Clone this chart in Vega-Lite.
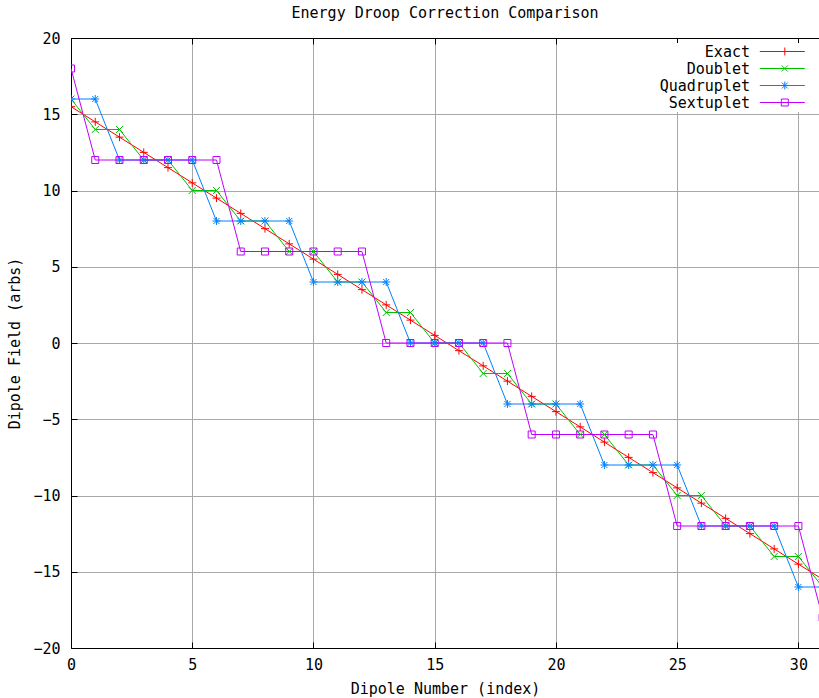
{
  "$schema": "https://vega.github.io/schema/vega-lite/v6.json",
  "width": 748,
  "height": 610,
  "autosize": {"type": "none"},
  "padding": {"left": 71, "top": 38, "right": 0, "bottom": 50},
  "background": "white",
  "title": {
    "text": "Energy Droop Correction Comparison",
    "anchor": "middle",
    "frame": "group",
    "offset": 10,
    "font": "DejaVu Sans Mono",
    "fontSize": 15,
    "fontWeight": "normal",
    "color": "black"
  },
  "config": {
    "view": {"stroke": null},
    "axis": {
      "domainColor": "black",
      "domainWidth": 1,
      "tickColor": "black",
      "tickWidth": 1,
      "gridColor": "#a8a8a8",
      "gridWidth": 1,
      "gridOpacity": 1,
      "labelFont": "DejaVu Sans Mono",
      "labelFontSize": 15,
      "labelColor": "black",
      "labelFlush": false,
      "labelOverlap": false,
      "titleFont": "DejaVu Sans Mono",
      "titleFontSize": 15,
      "titleFontWeight": "normal",
      "titleColor": "black"
    }
  },
  "data": {
    "values": [
      {"series": "Exact", "x": 0, "y": 15.5}, {"series": "Exact", "x": 1, "y": 14.5},
      {"series": "Exact", "x": 2, "y": 13.5}, {"series": "Exact", "x": 3, "y": 12.5},
      {"series": "Exact", "x": 4, "y": 11.5}, {"series": "Exact", "x": 5, "y": 10.5},
      {"series": "Exact", "x": 6, "y": 9.5}, {"series": "Exact", "x": 7, "y": 8.5},
      {"series": "Exact", "x": 8, "y": 7.5}, {"series": "Exact", "x": 9, "y": 6.5},
      {"series": "Exact", "x": 10, "y": 5.5}, {"series": "Exact", "x": 11, "y": 4.5},
      {"series": "Exact", "x": 12, "y": 3.5}, {"series": "Exact", "x": 13, "y": 2.5},
      {"series": "Exact", "x": 14, "y": 1.5}, {"series": "Exact", "x": 15, "y": 0.5},
      {"series": "Exact", "x": 16, "y": -0.5}, {"series": "Exact", "x": 17, "y": -1.5},
      {"series": "Exact", "x": 18, "y": -2.5}, {"series": "Exact", "x": 19, "y": -3.5},
      {"series": "Exact", "x": 20, "y": -4.5}, {"series": "Exact", "x": 21, "y": -5.5},
      {"series": "Exact", "x": 22, "y": -6.5}, {"series": "Exact", "x": 23, "y": -7.5},
      {"series": "Exact", "x": 24, "y": -8.5}, {"series": "Exact", "x": 25, "y": -9.5},
      {"series": "Exact", "x": 26, "y": -10.5}, {"series": "Exact", "x": 27, "y": -11.5},
      {"series": "Exact", "x": 28, "y": -12.5}, {"series": "Exact", "x": 29, "y": -13.5},
      {"series": "Exact", "x": 30, "y": -14.5}, {"series": "Exact", "x": 31, "y": -15.5},

      {"series": "Doublet", "x": 0, "y": 16}, {"series": "Doublet", "x": 1, "y": 14},
      {"series": "Doublet", "x": 2, "y": 14}, {"series": "Doublet", "x": 3, "y": 12},
      {"series": "Doublet", "x": 4, "y": 12}, {"series": "Doublet", "x": 5, "y": 10},
      {"series": "Doublet", "x": 6, "y": 10}, {"series": "Doublet", "x": 7, "y": 8},
      {"series": "Doublet", "x": 8, "y": 8}, {"series": "Doublet", "x": 9, "y": 6},
      {"series": "Doublet", "x": 10, "y": 6}, {"series": "Doublet", "x": 11, "y": 4},
      {"series": "Doublet", "x": 12, "y": 4}, {"series": "Doublet", "x": 13, "y": 2},
      {"series": "Doublet", "x": 14, "y": 2}, {"series": "Doublet", "x": 15, "y": 0},
      {"series": "Doublet", "x": 16, "y": 0}, {"series": "Doublet", "x": 17, "y": -2},
      {"series": "Doublet", "x": 18, "y": -2}, {"series": "Doublet", "x": 19, "y": -4},
      {"series": "Doublet", "x": 20, "y": -4}, {"series": "Doublet", "x": 21, "y": -6},
      {"series": "Doublet", "x": 22, "y": -6}, {"series": "Doublet", "x": 23, "y": -8},
      {"series": "Doublet", "x": 24, "y": -8}, {"series": "Doublet", "x": 25, "y": -10},
      {"series": "Doublet", "x": 26, "y": -10}, {"series": "Doublet", "x": 27, "y": -12},
      {"series": "Doublet", "x": 28, "y": -12}, {"series": "Doublet", "x": 29, "y": -14},
      {"series": "Doublet", "x": 30, "y": -14}, {"series": "Doublet", "x": 31, "y": -16},

      {"series": "Quadruplet", "x": 0, "y": 16}, {"series": "Quadruplet", "x": 1, "y": 16},
      {"series": "Quadruplet", "x": 2, "y": 12}, {"series": "Quadruplet", "x": 3, "y": 12},
      {"series": "Quadruplet", "x": 4, "y": 12}, {"series": "Quadruplet", "x": 5, "y": 12},
      {"series": "Quadruplet", "x": 6, "y": 8}, {"series": "Quadruplet", "x": 7, "y": 8},
      {"series": "Quadruplet", "x": 8, "y": 8}, {"series": "Quadruplet", "x": 9, "y": 8},
      {"series": "Quadruplet", "x": 10, "y": 4}, {"series": "Quadruplet", "x": 11, "y": 4},
      {"series": "Quadruplet", "x": 12, "y": 4}, {"series": "Quadruplet", "x": 13, "y": 4},
      {"series": "Quadruplet", "x": 14, "y": 0}, {"series": "Quadruplet", "x": 15, "y": 0},
      {"series": "Quadruplet", "x": 16, "y": 0}, {"series": "Quadruplet", "x": 17, "y": 0},
      {"series": "Quadruplet", "x": 18, "y": -4}, {"series": "Quadruplet", "x": 19, "y": -4},
      {"series": "Quadruplet", "x": 20, "y": -4}, {"series": "Quadruplet", "x": 21, "y": -4},
      {"series": "Quadruplet", "x": 22, "y": -8}, {"series": "Quadruplet", "x": 23, "y": -8},
      {"series": "Quadruplet", "x": 24, "y": -8}, {"series": "Quadruplet", "x": 25, "y": -8},
      {"series": "Quadruplet", "x": 26, "y": -12}, {"series": "Quadruplet", "x": 27, "y": -12},
      {"series": "Quadruplet", "x": 28, "y": -12}, {"series": "Quadruplet", "x": 29, "y": -12},
      {"series": "Quadruplet", "x": 30, "y": -16}, {"series": "Quadruplet", "x": 31, "y": -16},

      {"series": "Sextuplet", "x": 0, "y": 18}, {"series": "Sextuplet", "x": 1, "y": 12},
      {"series": "Sextuplet", "x": 2, "y": 12}, {"series": "Sextuplet", "x": 3, "y": 12},
      {"series": "Sextuplet", "x": 4, "y": 12}, {"series": "Sextuplet", "x": 5, "y": 12},
      {"series": "Sextuplet", "x": 6, "y": 12}, {"series": "Sextuplet", "x": 7, "y": 6},
      {"series": "Sextuplet", "x": 8, "y": 6}, {"series": "Sextuplet", "x": 9, "y": 6},
      {"series": "Sextuplet", "x": 10, "y": 6}, {"series": "Sextuplet", "x": 11, "y": 6},
      {"series": "Sextuplet", "x": 12, "y": 6}, {"series": "Sextuplet", "x": 13, "y": 0},
      {"series": "Sextuplet", "x": 14, "y": 0}, {"series": "Sextuplet", "x": 15, "y": 0},
      {"series": "Sextuplet", "x": 16, "y": 0}, {"series": "Sextuplet", "x": 17, "y": 0},
      {"series": "Sextuplet", "x": 18, "y": 0}, {"series": "Sextuplet", "x": 19, "y": -6},
      {"series": "Sextuplet", "x": 20, "y": -6}, {"series": "Sextuplet", "x": 21, "y": -6},
      {"series": "Sextuplet", "x": 22, "y": -6}, {"series": "Sextuplet", "x": 23, "y": -6},
      {"series": "Sextuplet", "x": 24, "y": -6}, {"series": "Sextuplet", "x": 25, "y": -12},
      {"series": "Sextuplet", "x": 26, "y": -12}, {"series": "Sextuplet", "x": 27, "y": -12},
      {"series": "Sextuplet", "x": 28, "y": -12}, {"series": "Sextuplet", "x": 29, "y": -12},
      {"series": "Sextuplet", "x": 30, "y": -12}, {"series": "Sextuplet", "x": 31, "y": -18}
    ]
  },
  "layer": [
    {
      "mark": {"type": "line", "strokeWidth": 1, "clip": true},
      "encoding": {
        "x": {
          "field": "x",
          "type": "quantitative",
          "scale": {"domain": [0, 30.85], "nice": false, "zero": false},
          "axis": {
            "orient": "bottom",
            "values": [0, 5, 10, 15, 20, 25, 30],
            "grid": true,
            "tickSize": -6,
            "labelPadding": 15,
            "title": "Dipole Number (index)",
            "titlePadding": 9
          }
        },
        "y": {
          "field": "y",
          "type": "quantitative",
          "scale": {"domain": [-20, 20], "nice": false},
          "axis": {
            "values": [-20, -15, -10, -5, 0, 5, 10, 15, 20],
            "grid": true,
            "tickSize": -6,
            "labelPadding": 17,
            "title": "Dipole Field (arbs)",
            "titlePadding": 10
          }
        },
        "color": {
          "field": "series",
          "type": "nominal",
          "scale": {
            "domain": ["Exact", "Doublet", "Quadruplet", "Sextuplet"],
            "range": ["#ff0000", "#00c000", "#0080ff", "#c000ff"]
          },
          "legend": {
            "title": null,
            "orient": "top-right",
            "offset": 5,
            "padding": 1,
            "fillColor": "white",
            "symbolSize": 100,
            "symbolStrokeWidth": 1,
            "labelAlign": "right",
            "labelOffset": 80,
            "labelFont": "DejaVu Sans Mono",
            "labelFontSize": 15,
            "labelColor": "black",
            "rowPadding": 1,
            "encode": {
              "symbols": {
                "update": {
                  "shape": {"signal": "datum.value === 'Exact' ? 'M19.46,0H28.46M24.46,-0.8V0.8M29.66,0' : datum.value === 'Doublet' ? 'M19.46,0H28.46M23.86,-0.6L25.06,0.6M23.86,0.6L25.06,-0.6M29.66,0' : datum.value === 'Quadruplet' ? 'M19.46,0H28.46M24.46,-0.8V0.8M23.86,-0.6L25.06,0.6M23.86,0.6L25.06,-0.6M29.66,0' : 'M19.46,0H28.46M23.76,-0.7H25.16V0.7H23.76ZM29.66,0'"},
                  "stroke": {"scale": "color", "field": "value"},
                  "fill": {"value": "transparent"}
                }
              }
            }
          }
        }
      }
    },
    {
      "encoding": {
        "x": {
          "field": "x",
          "type": "quantitative",
          "axis": {
            "orient": "top",
            "values": [0, 5, 10, 15, 20, 25, 30],
            "labels": false,
            "grid": false,
            "tickSize": -6,
            "title": null
          }
        },
        "y": {
          "field": "y",
          "type": "quantitative",
          "axis": {
            "values": [-20, -15, -10, -5, 0, 5, 10, 15, 20],
            "grid": true,
            "tickSize": -6,
            "labelPadding": 17,
            "title": "Dipole Field (arbs)",
            "titlePadding": 10
          }
        }
      },
      "layer": [
        {
          "transform": [{"filter": "datum.series === 'Exact'"}],
          "mark": {"type": "point", "shape": "M-1,0H1M0,-1V1", "size": 64, "filled": false, "strokeWidth": 1, "opacity": 1, "color": "#ff0000", "clip": true}
        },
        {
          "transform": [{"filter": "datum.series === 'Doublet'"}],
          "mark": {"type": "point", "shape": "M-1,-1L1,1M-1,1L1,-1", "size": 49, "filled": false, "strokeWidth": 1, "opacity": 1, "color": "#00c000", "clip": true}
        },
        {
          "transform": [{"filter": "datum.series === 'Quadruplet'"}],
          "mark": {"type": "point", "shape": "M-1,0H1M0,-1V1M-0.75,-0.75L0.75,0.75M-0.75,0.75L0.75,-0.75", "size": 64, "filled": false, "strokeWidth": 1, "opacity": 1, "color": "#0080ff", "clip": true}
        },
        {
          "transform": [{"filter": "datum.series === 'Sextuplet'"}],
          "mark": {"type": "point", "shape": "M-1,-1H1V1H-1Z", "size": 49, "filled": false, "strokeWidth": 1, "opacity": 1, "color": "#c000ff", "clip": true}
        }
      ]
    }
  ]
}
